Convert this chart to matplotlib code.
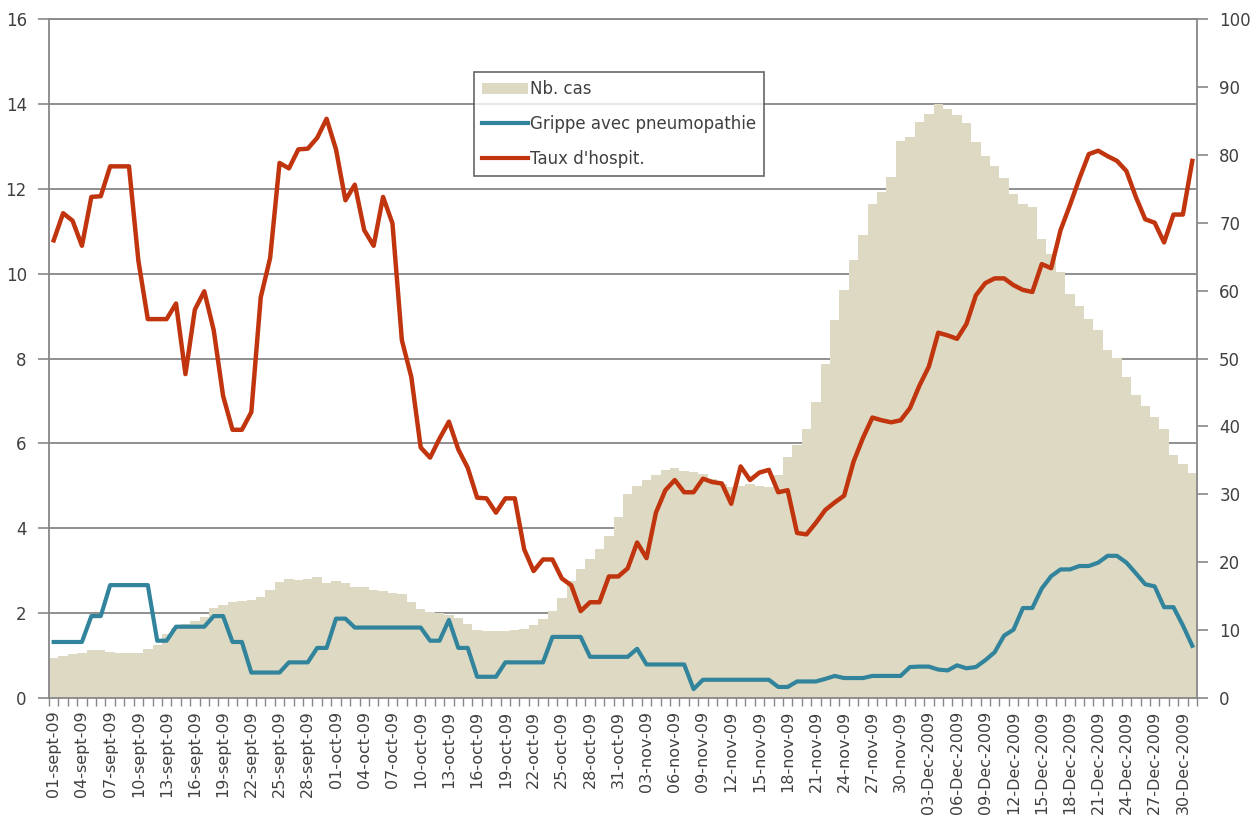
import numpy as np
import matplotlib.pyplot as plt
from matplotlib.patches import Patch
from matplotlib.lines import Line2D

# Daily values, 01-sept-2009 .. 31-Dec-2009 (122 days)
# Nb. cas -> left axis
nb_cas = [
    0.95, 1.00, 1.03, 1.07, 1.12, 1.14, 1.08, 1.05, 1.05, 1.05,
    1.15, 1.25, 1.50, 1.65, 1.75, 1.82, 1.90, 2.12, 2.19, 2.26,
    2.29, 2.32, 2.38, 2.55, 2.73, 2.81, 2.78, 2.81, 2.85, 2.72,
    2.76, 2.71, 2.61, 2.61, 2.55, 2.53, 2.47, 2.45, 2.27, 2.10,
    2.02, 2.00, 1.95, 1.88, 1.74, 1.60, 1.57, 1.57, 1.58, 1.61,
    1.63, 1.72, 1.86, 2.05, 2.35, 2.75, 3.03, 3.28, 3.50, 3.82,
    4.27, 4.80, 5.00, 5.13, 5.25, 5.37, 5.41, 5.36, 5.32, 5.27,
    5.15, 5.05, 4.98, 5.00, 5.05, 5.00, 4.98, 5.25, 5.67, 5.96,
    6.35, 6.98, 7.86, 8.90, 9.62, 10.33, 10.91, 11.63, 11.93, 12.28,
    13.13, 13.22, 13.57, 13.76, 13.99, 13.89, 13.74, 13.55, 13.09, 12.78,
    12.53, 12.25, 11.87, 11.65, 11.58, 10.81, 10.47, 10.04, 9.53, 9.24,
    8.94, 8.66, 8.21, 8.02, 7.57, 7.15, 6.88, 6.61, 6.35, 5.72,
    5.51, 5.30,
]

# Grippe avec pneumopathie -> left axis
grippe_pneumo = [
    1.32, 1.32, 1.32, 1.32, 1.93, 1.93, 2.66, 2.66, 2.66, 2.66,
    2.66, 1.35, 1.35, 1.68, 1.68, 1.68, 1.68, 1.93, 1.93, 1.32,
    1.32, 0.60, 0.60, 0.60, 0.60, 0.84, 0.84, 0.84, 1.18, 1.18,
    1.87, 1.87, 1.66, 1.66, 1.66, 1.66, 1.66, 1.66, 1.66, 1.66,
    1.35, 1.35, 1.84, 1.18, 1.18, 0.50, 0.50, 0.50, 0.84, 0.84,
    0.84, 0.84, 0.84, 1.44, 1.44, 1.44, 1.44, 0.97, 0.97, 0.97,
    0.97, 0.97, 1.16, 0.79, 0.79, 0.79, 0.79, 0.79, 0.21, 0.43,
    0.43, 0.43, 0.43, 0.43, 0.43, 0.43, 0.43, 0.26, 0.26, 0.39,
    0.39, 0.39, 0.45, 0.52, 0.47, 0.47, 0.47, 0.52, 0.52, 0.52,
    0.52, 0.73, 0.74, 0.74, 0.67, 0.65, 0.77, 0.70, 0.73, 0.89,
    1.08, 1.47, 1.61, 2.12, 2.12, 2.58, 2.87, 3.03, 3.03, 3.11,
    3.11, 3.19, 3.35, 3.35, 3.19, 2.94, 2.68, 2.63, 2.14, 2.14,
    1.71, 1.23,
]

# Taux d'hospit. -> right axis
taux_hospit = [
    67.4, 71.4, 70.3, 66.6, 73.8, 73.9, 78.3, 78.3, 78.3, 64.4,
    55.8, 55.8, 55.8, 58.1, 47.7, 57.2, 59.9, 54.2, 44.5, 39.5,
    39.5, 42.1, 59.0, 64.8, 78.8, 78.0, 80.8, 80.9, 82.5, 85.3,
    80.8, 73.3, 75.6, 68.9, 66.6, 73.8, 69.9, 52.7, 47.3, 36.9,
    35.4, 38.2, 40.7, 36.6, 33.9, 29.5, 29.4, 27.3, 29.4, 29.4,
    21.9, 18.7, 20.4, 20.4, 17.6, 16.6, 12.8, 14.1, 14.1, 17.9,
    17.9, 19.1, 22.9, 20.6, 27.3, 30.6, 32.1, 30.3, 30.3, 32.3,
    31.8, 31.6, 28.6, 34.1, 32.1, 33.2, 33.6, 30.3, 30.6, 24.3,
    24.1, 25.8, 27.7, 28.8, 29.8, 34.8, 38.3, 41.3, 40.9, 40.6,
    40.9, 42.7, 46.0, 48.8, 53.8, 53.4, 52.9, 55.1, 59.3, 61.1,
    61.8, 61.8, 60.8, 60.1, 59.8, 63.9, 63.3, 68.9, 72.6, 76.5,
    80.1, 80.6, 79.8, 79.1, 77.6, 73.8, 70.5, 70.0, 67.1, 71.2,
    71.2, 79.1,
]

# every third day gets a label
tick_labels = [
    "01-sept-09", "04-sept-09", "07-sept-09", "10-sept-09", "13-sept-09",
    "16-sept-09", "19-sept-09", "22-sept-09", "25-sept-09", "28-sept-09",
    "01-oct-09", "04-oct-09", "07-oct-09", "10-oct-09", "13-oct-09",
    "16-oct-09", "19-oct-09", "22-oct-09", "25-oct-09", "28-oct-09",
    "31-oct-09", "03-nov-09", "06-nov-09", "09-nov-09", "12-nov-09",
    "15-nov-09", "18-nov-09", "21-nov-09", "24-nov-09", "27-nov-09",
    "30-nov-09", "03-Dec-2009", "06-Dec-2009", "09-Dec-2009", "12-Dec-2009",
    "15-Dec-2009", "18-Dec-2009", "21-Dec-2009", "24-Dec-2009", "27-Dec-2009",
    "30-Dec-2009",
]

BEIGE = "#DDD9C3"
BLUE = "#31849B"
RED = "#C0340E"
GRID = "#878787"
TXT = "#404040"

x = np.arange(len(nb_cas))

fig = plt.figure(figsize=(12.5, 8.23), dpi=100)
W, H = 1250, 823
ax = fig.add_axes([49 / W, 1 - 698 / H, (1197 - 49) / W, (698 - 19) / H])

ax.bar(x, nb_cas, width=1.0, color=BEIGE, linewidth=0, zorder=2)
ax.plot(x, grippe_pneumo, color=BLUE, lw=3, zorder=3, solid_joinstyle="round")

ax.set_xlim(-0.5, len(x) - 0.5)
ax.set_ylim(0, 16)
ax.set_yticks(range(0, 17, 2))
ax.grid(axis="y", color=GRID, lw=1.3, zorder=0)
ax.set_axisbelow(True)

# x ticks: labels every 3 days, small tick marks between every day
ax.set_xticks(x[::3])
ax.set_xticklabels(tick_labels, rotation=90, fontsize=11.5, color=TXT)
ax.set_xticks(np.arange(-0.5, len(x), 1), minor=True)
ax.tick_params(axis="x", which="major", length=0, pad=9)
ax.tick_params(axis="x", which="minor", length=6, width=1, color=GRID)
ax.tick_params(axis="y", length=8, width=1.2, color=GRID, labelsize=12,
               labelcolor=TXT, pad=8)

for side in ["left", "bottom", "top"]:
    ax.spines[side].set_color(GRID)
    ax.spines[side].set_linewidth(1.3)
ax.spines["right"].set_visible(False)

ax2 = ax.twinx()
ax2.plot(x, taux_hospit, color=RED, lw=3.2, zorder=3, solid_joinstyle="round")
ax2.set_ylim(0, 100)
ax2.set_yticks(range(0, 101, 10))
ax2.tick_params(axis="y", length=8, width=1.2, color=GRID, labelsize=12,
                labelcolor=TXT, pad=8)
for side in ["left", "bottom", "top"]:
    ax2.spines[side].set_visible(False)
ax2.spines["right"].set_color(GRID)
ax2.spines["right"].set_linewidth(1.3)

handles = [
    Patch(facecolor=BEIGE, edgecolor="none", label="Nb. cas"),
    Line2D([], [], color=BLUE, lw=3, label="Grippe avec pneumopathie"),
    Line2D([], [], color=RED, lw=3, label="Taux d'hospit."),
]
leg = ax2.legend(handles=handles, loc="upper left",
                 bbox_to_anchor=(474 / W, 1 - 72 / H),
                 bbox_transform=fig.transFigure, fontsize=12,
                 frameon=True, fancybox=False, edgecolor=TXT,
                 handlelength=2.75, handletextpad=0.1, labelspacing=1.0,
                 borderpad=0.5, borderaxespad=0)
leg.get_frame().set_linewidth(1.2)
for t in leg.get_texts():
    t.set_color(TXT)

fig.savefig("out.png", dpi=100)
